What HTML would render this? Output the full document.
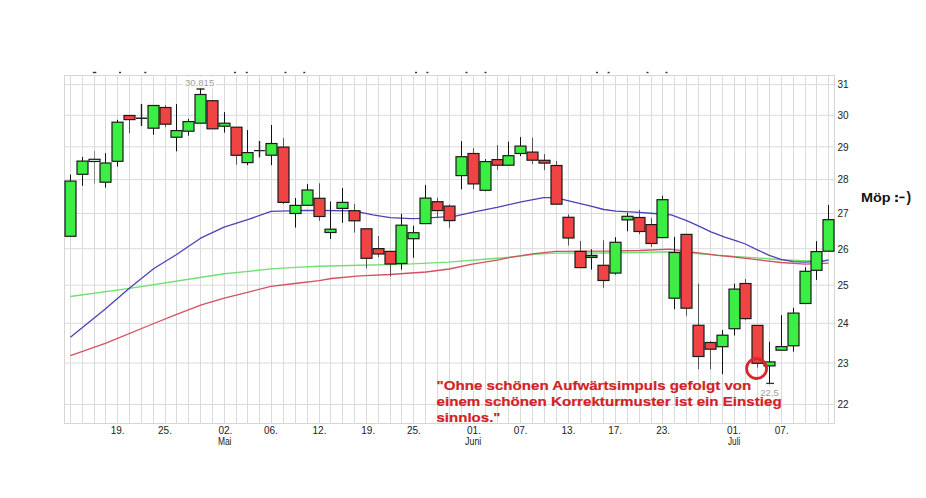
<!DOCTYPE html><html><head><meta charset="utf-8"><style>
html,body{margin:0;padding:0;background:#fff;}
body{width:926px;height:498px;overflow:hidden;position:relative;font-family:"Liberation Sans",sans-serif;}
svg{position:absolute;left:0;top:0;}
</style></head><body>
<svg width="926" height="498" viewBox="0 0 926 498">
<rect x="0" y="0" width="926" height="498" fill="#fff"/>
<path d="M70.5 75.5V423.5 M82.5 75.5V423.5 M94.5 75.5V423.5 M105.5 75.5V423.5 M117.5 75.5V423.5 M129.5 75.5V423.5 M141.5 75.5V423.5 M153.5 75.5V423.5 M165.5 75.5V423.5 M176.5 75.5V423.5 M188.5 75.5V423.5 M200.5 75.5V423.5 M212.5 75.5V423.5 M224.5 75.5V423.5 M236.5 75.5V423.5 M247.5 75.5V423.5 M259.5 75.5V423.5 M271.5 75.5V423.5 M283.5 75.5V423.5 M295.5 75.5V423.5 M307.5 75.5V423.5 M319.5 75.5V423.5 M330.5 75.5V423.5 M342.5 75.5V423.5 M354.5 75.5V423.5 M366.5 75.5V423.5 M378.5 75.5V423.5 M390.5 75.5V423.5 M401.5 75.5V423.5 M413.5 75.5V423.5 M425.5 75.5V423.5 M437.5 75.5V423.5 M449.5 75.5V423.5 M461.5 75.5V423.5 M473.5 75.5V423.5 M485.5 75.5V423.5 M497.5 75.5V423.5 M508.5 75.5V423.5 M520.5 75.5V423.5 M532.5 75.5V423.5 M544.5 75.5V423.5 M556.5 75.5V423.5 M568.5 75.5V423.5 M580.5 75.5V423.5 M591.5 75.5V423.5 M603.5 75.5V423.5 M615.5 75.5V423.5 M627.5 75.5V423.5 M639.5 75.5V423.5 M651.5 75.5V423.5 M662.5 75.5V423.5 M674.5 75.5V423.5 M686.5 75.5V423.5 M698.5 75.5V423.5 M710.5 75.5V423.5 M722.5 75.5V423.5 M734.5 75.5V423.5 M745.5 75.5V423.5 M757.5 75.5V423.5 M769.5 75.5V423.5 M781.5 75.5V423.5 M793.5 75.5V423.5 M805.5 75.5V423.5 M816.5 75.5V423.5 M828.5 75.5V423.5 M64.5 84.6H834.5 M64.5 115.3H834.5 M64.5 146.8H834.5 M64.5 179.6H834.5 M64.5 213.5H834.5 M64.5 248.7H834.5 M64.5 285.2H834.5 M64.5 323.3H834.5 M64.5 363.0H834.5 M64.5 404.5H834.5" stroke="#dadada" stroke-width="1" fill="none"/>
<rect x="64.5" y="75.5" width="770" height="348" fill="none" stroke="#d6d6d6" stroke-width="1"/>
<rect x="92.8" y="71.8" width="3.5" height="1.4" fill="#333"/>
<rect x="119.0" y="71.8" width="2" height="1.4" fill="#333"/>
<rect x="144.3" y="71.8" width="2" height="1.4" fill="#333"/>
<rect x="234.0" y="71.8" width="2" height="1.4" fill="#333"/>
<rect x="245.8" y="71.8" width="2" height="1.4" fill="#333"/>
<rect x="284.5" y="71.8" width="2" height="1.4" fill="#333"/>
<rect x="303.3" y="71.8" width="2" height="1.4" fill="#333"/>
<rect x="415.0" y="71.8" width="2" height="1.4" fill="#333"/>
<rect x="426.4" y="71.8" width="2" height="1.4" fill="#333"/>
<rect x="465.5" y="71.8" width="2" height="1.4" fill="#333"/>
<rect x="484.5" y="71.8" width="2" height="1.4" fill="#333"/>
<rect x="596.0" y="71.8" width="2" height="1.4" fill="#333"/>
<rect x="607.6" y="71.8" width="2" height="1.4" fill="#333"/>
<rect x="646.5" y="71.8" width="2" height="1.4" fill="#333"/>
<rect x="665.5" y="71.8" width="2" height="1.4" fill="#333"/>
<polyline points="70.4,296.5 129.6,288.4 200,277.5 224.2,273.7 248.4,271.4 270.8,268.9 295,267.4 319.2,266.2 360,265.2 401.8,264.4 448.4,262.1 484.7,259.3 510,257.3 534.5,254.3 555,253.1 603,253.0 640,252.5 669.8,251.8 694.4,253.2 717.7,255.3 730,256.1 757,257.9 781,259.7 805,260.6 828.6,260.6" fill="none" stroke="#70e070" stroke-width="1.4" stroke-linejoin="round"/>
<polyline points="70.4,355.6 105.3,343.4 153.9,323.5 176,314.7 201.4,304.9 224.2,298.2 248.4,292.1 270.8,286.3 295,283.5 319.2,280.6 331.3,278.5 360,275.8 389.7,274.5 426,272.0 449.3,269.0 470.9,264.4 500,259.6 510,257.3 534.5,253.7 555.3,251.4 603.6,251.2 640,250.5 669.8,249.2 694.4,252.3 717.7,255.3 730,256.5 757,259.7 781,262.5 805,264.2 828.6,263.2" fill="none" stroke="#d45060" stroke-width="1.3" stroke-linejoin="round"/>
<polyline points="70.4,337.2 105.3,309.1 129.6,288.1 153.9,268.5 176.2,254.7 200.6,238.2 224.1,227.2 248.5,219.4 271.1,211.3 289.2,210.9 302,210.4 324.5,210.5 349.6,210.9 360.8,212.3 372.9,214.9 390.2,217.6 410.9,218.6 421.3,218.3 436.8,217.3 455.2,216.1 474.5,211.8 497,207.3 521.2,201.8 543.6,197.6 550.5,197.6 562.6,199.3 578.2,203.1 590,205.9 603.8,209.5 615.9,211.2 639.2,212.3 653.9,213.5 671.2,214.9 686.7,220.7 700.5,226.8 710.9,231.8 724.7,237.1 737.2,241.2 745.4,244.0 757.3,249.8 769.2,255.3 781,259.3 793,261.6 804.8,262.1 822.6,261.1 828.6,259.8" fill="none" stroke="#4a42b8" stroke-width="1.3" stroke-linejoin="round"/>
<path d="M70.5 174.5V181.1" stroke="#111" stroke-width="1"/>
<rect x="65.0" y="181.1" width="11" height="55.2" fill="#3cee44" stroke="#1a1a1a" stroke-width="1.2"/>
<path d="M82.5 157.0V161.1" stroke="#111" stroke-width="1"/>
<path d="M82.5 174.3V185.8" stroke="#111" stroke-width="1"/>
<rect x="77.0" y="161.1" width="11" height="13.2" fill="#3cee44" stroke="#1a1a1a" stroke-width="1.2"/>
<path d="M94.5 151.0V159.3" stroke="#888" stroke-width="1"/>
<path d="M94.5 161.5V183.6" stroke="#888" stroke-width="1"/>
<rect x="89.0" y="159.3" width="11" height="2.2" fill="#d8f5d8" stroke="#1a1a1a" stroke-width="1.2"/>
<path d="M105.5 153.2V163.0" stroke="#111" stroke-width="1"/>
<path d="M105.5 182.2V187.6" stroke="#111" stroke-width="1"/>
<rect x="100.0" y="163.0" width="11" height="19.2" fill="#3cee44" stroke="#1a1a1a" stroke-width="1.2"/>
<path d="M117.5 119.8V122.2" stroke="#111" stroke-width="1"/>
<path d="M117.5 161.3V166.5" stroke="#111" stroke-width="1"/>
<rect x="112.0" y="122.2" width="11" height="39.1" fill="#3cee44" stroke="#1a1a1a" stroke-width="1.2"/>
<path d="M129.5 119.6V133.2" stroke="#555" stroke-width="1"/>
<rect x="124.0" y="115.5" width="11" height="4.1" fill="#f04444" stroke="#1a1a1a" stroke-width="1.2"/>
<path d="M141.5 104.0V118.2" stroke="#111" stroke-width="1"/>
<path d="M141.5 118.2V125.8" stroke="#111" stroke-width="1"/>
<path d="M141.5 104.0V125.8M136.0 118.2H147.0" stroke="#222" stroke-width="1.4"/>
<path d="M153.5 128.2V134.6" stroke="#111" stroke-width="1"/>
<rect x="148.0" y="105.5" width="11" height="22.7" fill="#3cee44" stroke="#1a1a1a" stroke-width="1.2"/>
<path d="M165.5 105.1V107.5" stroke="#555" stroke-width="1"/>
<path d="M165.5 124.2V127.2" stroke="#555" stroke-width="1"/>
<rect x="160.0" y="107.5" width="11" height="16.7" fill="#f04444" stroke="#1a1a1a" stroke-width="1.2"/>
<path d="M176.5 104.1V130.6" stroke="#111" stroke-width="1"/>
<path d="M176.5 137.2V151.3" stroke="#111" stroke-width="1"/>
<rect x="171.0" y="130.6" width="11" height="6.6" fill="#3cee44" stroke="#1a1a1a" stroke-width="1.2"/>
<path d="M188.5 118.8V121.6" stroke="#111" stroke-width="1"/>
<path d="M188.5 131.2V135.6" stroke="#111" stroke-width="1"/>
<rect x="183.0" y="121.6" width="11" height="9.6" fill="#3cee44" stroke="#1a1a1a" stroke-width="1.2"/>
<path d="M200.5 89.0V94.5" stroke="#111" stroke-width="1"/>
<rect x="195.0" y="94.5" width="11" height="28.7" fill="#3cee44" stroke="#1a1a1a" stroke-width="1.2"/>
<rect x="207.0" y="100.7" width="11" height="28.1" fill="#f04444" stroke="#1a1a1a" stroke-width="1.2"/>
<path d="M224.5 112.1V123.2" stroke="#111" stroke-width="1"/>
<path d="M224.5 126.2V132.6" stroke="#111" stroke-width="1"/>
<rect x="219.0" y="123.2" width="11" height="3.0" fill="#3cee44" stroke="#1a1a1a" stroke-width="1.2"/>
<path d="M236.5 155.3V164.7" stroke="#555" stroke-width="1"/>
<rect x="231.0" y="127.2" width="11" height="28.1" fill="#f04444" stroke="#1a1a1a" stroke-width="1.2"/>
<path d="M247.5 130.1V152.6" stroke="#111" stroke-width="1"/>
<path d="M247.5 162.6V165.2" stroke="#111" stroke-width="1"/>
<rect x="242.0" y="152.6" width="11" height="10.0" fill="#3cee44" stroke="#1a1a1a" stroke-width="1.2"/>
<path d="M259.5 141.1V150.6" stroke="#111" stroke-width="1"/>
<path d="M259.5 150.6V157.2" stroke="#111" stroke-width="1"/>
<path d="M259.5 141.1V157.2M254.0 150.6H265.0" stroke="#222" stroke-width="1.4"/>
<path d="M271.5 125.0V143.5" stroke="#111" stroke-width="1"/>
<path d="M271.5 155.2V165.2" stroke="#111" stroke-width="1"/>
<rect x="266.0" y="143.5" width="11" height="11.7" fill="#3cee44" stroke="#1a1a1a" stroke-width="1.2"/>
<path d="M283.5 138.1V147.1" stroke="#555" stroke-width="1"/>
<path d="M283.5 202.4V204.0" stroke="#555" stroke-width="1"/>
<rect x="278.0" y="147.1" width="11" height="55.3" fill="#f04444" stroke="#1a1a1a" stroke-width="1.2"/>
<path d="M295.5 198.0V205.4" stroke="#111" stroke-width="1"/>
<path d="M295.5 213.5V227.6" stroke="#111" stroke-width="1"/>
<rect x="290.0" y="205.4" width="11" height="8.1" fill="#3cee44" stroke="#1a1a1a" stroke-width="1.2"/>
<path d="M307.5 184.2V190.0" stroke="#111" stroke-width="1"/>
<rect x="302.0" y="190.0" width="11" height="15.3" fill="#3cee44" stroke="#1a1a1a" stroke-width="1.2"/>
<path d="M319.5 183.3V198.3" stroke="#555" stroke-width="1"/>
<path d="M319.5 216.5V220.8" stroke="#555" stroke-width="1"/>
<rect x="314.0" y="198.3" width="11" height="18.2" fill="#f04444" stroke="#1a1a1a" stroke-width="1.2"/>
<path d="M330.5 201.5V229.2" stroke="#111" stroke-width="1"/>
<path d="M330.5 232.5V238.9" stroke="#111" stroke-width="1"/>
<rect x="325.0" y="229.2" width="11" height="3.3" fill="#3cee44" stroke="#1a1a1a" stroke-width="1.2"/>
<path d="M342.5 188.1V202.4" stroke="#111" stroke-width="1"/>
<path d="M342.5 208.4V222.8" stroke="#111" stroke-width="1"/>
<rect x="337.0" y="202.4" width="11" height="6.0" fill="#3cee44" stroke="#1a1a1a" stroke-width="1.2"/>
<path d="M354.5 204.1V210.7" stroke="#555" stroke-width="1"/>
<path d="M354.5 220.8V232.6" stroke="#555" stroke-width="1"/>
<rect x="349.0" y="210.7" width="11" height="10.1" fill="#f04444" stroke="#1a1a1a" stroke-width="1.2"/>
<path d="M366.5 258.3V268.4" stroke="#555" stroke-width="1"/>
<rect x="361.0" y="228.8" width="11" height="29.5" fill="#f04444" stroke="#1a1a1a" stroke-width="1.2"/>
<path d="M378.5 236.0V248.6" stroke="#555" stroke-width="1"/>
<path d="M378.5 254.0V257.2" stroke="#555" stroke-width="1"/>
<rect x="373.0" y="248.6" width="11" height="5.4" fill="#f04444" stroke="#1a1a1a" stroke-width="1.2"/>
<path d="M390.5 264.0V276.5" stroke="#555" stroke-width="1"/>
<rect x="385.0" y="251.4" width="11" height="12.6" fill="#f04444" stroke="#1a1a1a" stroke-width="1.2"/>
<path d="M401.5 213.8V225.2" stroke="#111" stroke-width="1"/>
<path d="M401.5 263.5V269.7" stroke="#111" stroke-width="1"/>
<rect x="396.0" y="225.2" width="11" height="38.3" fill="#3cee44" stroke="#1a1a1a" stroke-width="1.2"/>
<path d="M413.5 225.8V232.7" stroke="#111" stroke-width="1"/>
<path d="M413.5 238.7V257.8" stroke="#111" stroke-width="1"/>
<rect x="408.0" y="232.7" width="11" height="6.0" fill="#3cee44" stroke="#1a1a1a" stroke-width="1.2"/>
<path d="M425.5 185.1V198.1" stroke="#111" stroke-width="1"/>
<rect x="420.0" y="198.1" width="11" height="25.5" fill="#3cee44" stroke="#1a1a1a" stroke-width="1.2"/>
<path d="M437.5 197.7V201.7" stroke="#555" stroke-width="1"/>
<path d="M437.5 210.6V218.2" stroke="#555" stroke-width="1"/>
<rect x="432.0" y="201.7" width="11" height="8.9" fill="#f04444" stroke="#1a1a1a" stroke-width="1.2"/>
<path d="M449.5 204.5V206.1" stroke="#555" stroke-width="1"/>
<path d="M449.5 220.6V227.8" stroke="#555" stroke-width="1"/>
<rect x="444.0" y="206.1" width="11" height="14.5" fill="#f04444" stroke="#1a1a1a" stroke-width="1.2"/>
<path d="M461.5 141.1V156.7" stroke="#111" stroke-width="1"/>
<path d="M461.5 175.6V189.4" stroke="#111" stroke-width="1"/>
<rect x="456.0" y="156.7" width="11" height="18.9" fill="#3cee44" stroke="#1a1a1a" stroke-width="1.2"/>
<path d="M473.5 148.1V153.5" stroke="#555" stroke-width="1"/>
<path d="M473.5 183.9V189.3" stroke="#555" stroke-width="1"/>
<rect x="468.0" y="153.5" width="11" height="30.4" fill="#f04444" stroke="#1a1a1a" stroke-width="1.2"/>
<path d="M485.5 159.2V161.6" stroke="#111" stroke-width="1"/>
<path d="M485.5 190.3V191.3" stroke="#111" stroke-width="1"/>
<rect x="480.0" y="161.6" width="11" height="28.7" fill="#3cee44" stroke="#1a1a1a" stroke-width="1.2"/>
<path d="M497.5 145.1V159.6" stroke="#555" stroke-width="1"/>
<path d="M497.5 165.2V169.8" stroke="#555" stroke-width="1"/>
<rect x="492.0" y="159.6" width="11" height="5.6" fill="#f04444" stroke="#1a1a1a" stroke-width="1.2"/>
<path d="M508.5 141.7V155.7" stroke="#111" stroke-width="1"/>
<rect x="503.0" y="155.7" width="11" height="9.5" fill="#3cee44" stroke="#1a1a1a" stroke-width="1.2"/>
<path d="M520.5 137.1V146.1" stroke="#111" stroke-width="1"/>
<path d="M520.5 153.5V156.1" stroke="#111" stroke-width="1"/>
<rect x="515.0" y="146.1" width="11" height="7.4" fill="#3cee44" stroke="#1a1a1a" stroke-width="1.2"/>
<path d="M532.5 137.7V152.1" stroke="#555" stroke-width="1"/>
<path d="M532.5 160.2V164.2" stroke="#555" stroke-width="1"/>
<rect x="527.0" y="152.1" width="11" height="8.1" fill="#f04444" stroke="#1a1a1a" stroke-width="1.2"/>
<path d="M544.5 154.1V160.3" stroke="#555" stroke-width="1"/>
<path d="M544.5 163.1V170.1" stroke="#555" stroke-width="1"/>
<rect x="539.0" y="160.3" width="11" height="2.8" fill="#f04444" stroke="#1a1a1a" stroke-width="1.2"/>
<path d="M556.5 161.0V165.5" stroke="#555" stroke-width="1"/>
<rect x="551.0" y="165.5" width="11" height="38.7" fill="#f04444" stroke="#1a1a1a" stroke-width="1.2"/>
<path d="M568.5 214.3V217.3" stroke="#555" stroke-width="1"/>
<path d="M568.5 238.0V245.5" stroke="#555" stroke-width="1"/>
<rect x="563.0" y="217.3" width="11" height="20.7" fill="#f04444" stroke="#1a1a1a" stroke-width="1.2"/>
<path d="M580.5 241.0V251.4" stroke="#555" stroke-width="1"/>
<rect x="575.0" y="251.4" width="11" height="16.2" fill="#f04444" stroke="#1a1a1a" stroke-width="1.2"/>
<path d="M591.5 249.2V255.4" stroke="#111" stroke-width="1"/>
<path d="M591.5 257.5V269.6" stroke="#111" stroke-width="1"/>
<rect x="586.0" y="255.4" width="11" height="2.1" fill="#3a9a3a" stroke="#1a1a1a" stroke-width="1.2"/>
<path d="M603.5 240.3V265.3" stroke="#555" stroke-width="1"/>
<path d="M603.5 280.5V287.7" stroke="#555" stroke-width="1"/>
<rect x="598.0" y="265.3" width="11" height="15.2" fill="#f04444" stroke="#1a1a1a" stroke-width="1.2"/>
<path d="M615.5 237.2V242.3" stroke="#111" stroke-width="1"/>
<path d="M615.5 273.1V274.6" stroke="#111" stroke-width="1"/>
<rect x="610.0" y="242.3" width="11" height="30.8" fill="#3cee44" stroke="#1a1a1a" stroke-width="1.2"/>
<path d="M627.5 212.9V216.3" stroke="#111" stroke-width="1"/>
<path d="M627.5 219.9V231.3" stroke="#111" stroke-width="1"/>
<rect x="622.0" y="216.3" width="11" height="3.6" fill="#3cee44" stroke="#1a1a1a" stroke-width="1.2"/>
<path d="M639.5 209.9V217.5" stroke="#555" stroke-width="1"/>
<path d="M639.5 231.5V234.2" stroke="#555" stroke-width="1"/>
<rect x="634.0" y="217.5" width="11" height="14.0" fill="#f04444" stroke="#1a1a1a" stroke-width="1.2"/>
<path d="M651.5 217.8V224.6" stroke="#555" stroke-width="1"/>
<path d="M651.5 243.5V247.0" stroke="#555" stroke-width="1"/>
<rect x="646.0" y="224.6" width="11" height="18.9" fill="#f04444" stroke="#1a1a1a" stroke-width="1.2"/>
<path d="M662.5 195.7V199.7" stroke="#111" stroke-width="1"/>
<rect x="657.0" y="199.7" width="11" height="37.9" fill="#3cee44" stroke="#1a1a1a" stroke-width="1.2"/>
<path d="M674.5 236.8V252.5" stroke="#111" stroke-width="1"/>
<path d="M674.5 298.2V309.2" stroke="#111" stroke-width="1"/>
<rect x="669.0" y="252.5" width="11" height="45.7" fill="#3cee44" stroke="#1a1a1a" stroke-width="1.2"/>
<path d="M686.5 308.2V315.8" stroke="#555" stroke-width="1"/>
<rect x="681.0" y="234.4" width="11" height="73.8" fill="#f04444" stroke="#1a1a1a" stroke-width="1.2"/>
<path d="M698.5 283.6V325.3" stroke="#555" stroke-width="1"/>
<path d="M698.5 356.5V369.2" stroke="#555" stroke-width="1"/>
<rect x="693.0" y="325.3" width="11" height="31.2" fill="#f04444" stroke="#1a1a1a" stroke-width="1.2"/>
<path d="M710.5 341.3V342.5" stroke="#555" stroke-width="1"/>
<path d="M710.5 349.2V369.2" stroke="#555" stroke-width="1"/>
<rect x="705.0" y="342.5" width="11" height="6.7" fill="#f04444" stroke="#1a1a1a" stroke-width="1.2"/>
<path d="M722.5 330.1V335.2" stroke="#111" stroke-width="1"/>
<path d="M722.5 346.7V374.2" stroke="#111" stroke-width="1"/>
<rect x="717.0" y="335.2" width="11" height="11.5" fill="#3cee44" stroke="#1a1a1a" stroke-width="1.2"/>
<path d="M734.5 283.7V289.1" stroke="#111" stroke-width="1"/>
<path d="M734.5 328.7V335.5" stroke="#111" stroke-width="1"/>
<rect x="729.0" y="289.1" width="11" height="39.6" fill="#3cee44" stroke="#1a1a1a" stroke-width="1.2"/>
<path d="M745.5 279.0V283.5" stroke="#555" stroke-width="1"/>
<path d="M745.5 318.6V320.1" stroke="#555" stroke-width="1"/>
<rect x="740.0" y="283.5" width="11" height="35.1" fill="#f04444" stroke="#1a1a1a" stroke-width="1.2"/>
<path d="M757.5 363.3V367.7" stroke="#555" stroke-width="1"/>
<rect x="752.0" y="325.4" width="11" height="37.9" fill="#f04444" stroke="#1a1a1a" stroke-width="1.2"/>
<path d="M769.5 341.8V361.9" stroke="#111" stroke-width="1"/>
<path d="M769.5 365.9V383.4" stroke="#111" stroke-width="1"/>
<rect x="764.0" y="361.9" width="11" height="4.0" fill="#3cee44" stroke="#1a1a1a" stroke-width="1.2"/>
<path d="M781.5 315.1V346.6" stroke="#111" stroke-width="1"/>
<rect x="776.0" y="346.6" width="11" height="3.6" fill="#3cee44" stroke="#1a1a1a" stroke-width="1.2"/>
<path d="M793.5 307.7V313.1" stroke="#111" stroke-width="1"/>
<path d="M793.5 345.8V351.6" stroke="#111" stroke-width="1"/>
<rect x="788.0" y="313.1" width="11" height="32.7" fill="#3cee44" stroke="#1a1a1a" stroke-width="1.2"/>
<path d="M805.5 267.3V271.3" stroke="#111" stroke-width="1"/>
<rect x="800.0" y="271.3" width="11" height="32.2" fill="#3cee44" stroke="#1a1a1a" stroke-width="1.2"/>
<path d="M816.5 241.2V251.6" stroke="#111" stroke-width="1"/>
<path d="M816.5 270.3V279.9" stroke="#111" stroke-width="1"/>
<rect x="811.0" y="251.6" width="11" height="18.7" fill="#3cee44" stroke="#1a1a1a" stroke-width="1.2"/>
<path d="M828.5 205.0V219.7" stroke="#111" stroke-width="1"/>
<rect x="823.0" y="219.7" width="11" height="31.5" fill="#3cee44" stroke="#1a1a1a" stroke-width="1.2"/>
<path d="M196.5 89H204.5" stroke="#111" stroke-width="1.3"/>
<path d="M766.2 383.4H774.0" stroke="#333" stroke-width="1.3"/>
<circle cx="756.6" cy="368.5" r="10" fill="none" stroke="#d8262a" stroke-width="2.8"/>
<g font-family="Liberation Sans, sans-serif" font-size="10" fill="#222">
<text x="837.5" y="88.4">31</text>
<text x="837.5" y="119.1">30</text>
<text x="837.5" y="150.6">29</text>
<text x="837.5" y="183.4">28</text>
<text x="837.5" y="217.3">27</text>
<text x="837.5" y="252.5">26</text>
<text x="837.5" y="289.0">25</text>
<text x="837.5" y="327.1">24</text>
<text x="837.5" y="366.8">23</text>
<text x="837.5" y="408.3">22</text>
<text x="117.58" y="434" text-anchor="middle">19.</text>
<text x="164.98" y="434" text-anchor="middle">25.</text>
<text x="225.33" y="434" text-anchor="middle">02.</text>
<text x="217.90" y="444.5" textLength="13.6" lengthAdjust="spacingAndGlyphs">Mai</text>
<text x="270.93" y="434" text-anchor="middle">06.</text>
<text x="319.53" y="434" text-anchor="middle">12.</text>
<text x="368.23" y="434" text-anchor="middle">19.</text>
<text x="413.88" y="434" text-anchor="middle">25.</text>
<text x="474.03" y="434" text-anchor="middle">01.</text>
<text x="465.10" y="444.5" textLength="16.2" lengthAdjust="spacingAndGlyphs">Juni</text>
<text x="520.68" y="434" text-anchor="middle">07.</text>
<text x="568.53" y="434" text-anchor="middle">13.</text>
<text x="615.18" y="434" text-anchor="middle">17.</text>
<text x="663.08" y="434" text-anchor="middle">23.</text>
<text x="733.93" y="434" text-anchor="middle">01.</text>
<text x="728.00" y="444.5" textLength="12.299999999999999" lengthAdjust="spacingAndGlyphs">Juli</text>
<text x="781.73" y="434" text-anchor="middle">07.</text>
</g>
<rect x="183" y="77" width="33" height="10.5" fill="#fff"/>
<text x="199.6" y="85.6" font-family="Liberation Sans, sans-serif" font-size="9.6" fill="#a0a0a0" text-anchor="middle">30,815</text>
<rect x="759" y="387" width="21" height="11" fill="#fff"/>
<text x="769.6" y="396.4" font-family="Liberation Sans, sans-serif" font-size="9.6" fill="#a0a0a0" text-anchor="middle">22,5</text>
</svg>
<svg width="926" height="498" viewBox="0 0 926 498" style="position:absolute;left:0;top:0">
<g font-family="Liberation Sans, sans-serif" font-weight="bold" font-size="12.8" fill="#d22228" stroke="#d22228" stroke-width="0.2">
<text x="436.5" y="389.9" textLength="314.8" lengthAdjust="spacingAndGlyphs">&quot;Ohne schönen Aufwärtsimpuls gefolgt von</text>
<text x="436.5" y="405.5" textLength="345.2" lengthAdjust="spacingAndGlyphs">einem schönen Korrekturmuster ist ein Einstieg</text>
<text x="436.5" y="422" textLength="64" lengthAdjust="spacingAndGlyphs">sinnlos.&quot;</text>
</g>
<text x="861" y="201.5" textLength="29.6" lengthAdjust="spacingAndGlyphs" font-family="Liberation Sans, sans-serif" font-weight="bold" font-size="13.2" fill="#111">Möp</text>
<rect x="895.3" y="194.9" width="2.5" height="2.4" fill="#111"/><rect x="895.3" y="199.6" width="2.5" height="2.4" fill="#111"/>
<text x="906.6" y="201.6" font-family="Liberation Sans, sans-serif" font-weight="bold" font-size="13.8" fill="#111">)</text>
<rect x="899.4" y="196.6" width="5.2" height="1.6" fill="#111"/>
</svg>
</body></html>
